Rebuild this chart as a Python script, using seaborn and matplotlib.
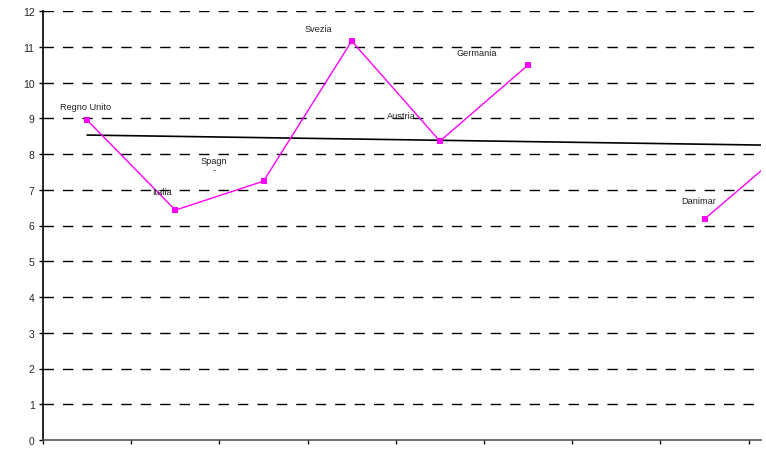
import numpy as np
import pandas as pd
import matplotlib
matplotlib.use("Agg")
import matplotlib.pyplot as plt
import seaborn as sns

# ---- data ----
countries = ["Regno Unito", "Italia", "Spagna", "Svezia", "Austria", "Germania",
             "(vuoto)", "Danimarca", "Successivo"]
values = [8.95, 6.43, 7.24, 11.16, 8.36, 10.49, np.nan, 6.18, 8.29]
segments = [0, 0, 0, 0, 0, 0, -1, 1, 1]
label_texts = ["Regno Unito", "Italia", "Spagn", "Svezia", "Austria", "Germania", "Danimar"]
label_x = [-0.02, 0.85, 1.44, 2.62, 3.56, 4.42, 6.93]
label_y = [9.34, 6.94, 7.83, 11.50, 9.09, 10.85, 6.69]
trend_cat = [0, 9]
trend_val = [8.53, 8.20]
y_ticks = list(range(0, 13))

sns.set_style("white")
plt.rcParams['font.family'] = ['Liberation Sans', 'DejaVu Sans']

fig = plt.figure(figsize=(7.66, 4.52), dpi=100)
ax = fig.add_axes([43 / 766, 11 / 452, 718 / 766, 429 / 452])

df = pd.DataFrame({"cat": np.arange(len(values)), "val": values, "seg": segments})
df = df[df["seg"] >= 0]

# gridlines
for yv in y_ticks[1:]:
    ax.axhline(yv, color="black", lw=1.0, ls=(0, (7.5, 6.5)), zorder=0.5)

sns.lineplot(data=df, x="cat", y="val", units="seg", estimator=None,
             color="#FF00FF", lw=1.0, marker="s", markersize=4,
             markeredgewidth=0, ax=ax, zorder=3)

tdf = pd.DataFrame({"cat": trend_cat, "val": trend_val})
sns.lineplot(data=tdf, x="cat", y="val", color="black", lw=1.2, ax=ax, zorder=2)

for t, x, y in zip(label_texts, label_x, label_y):
    ax.text(x, y, t, ha="center", va="center", fontsize=6.6, color="#222222", zorder=4)
ax.text(1.44, 7.55, "-", ha="center", va="center", fontsize=6.6, color="#222222")

ax.set_xlim(-0.5, 7.64)
ax.set_ylim(0, 12)
ax.set_yticks(y_ticks)
ax.set_yticklabels([str(v) for v in y_ticks], fontsize=7.5)
ax.set_xticks(np.arange(-0.5, 8, 1.0))
ax.set_xticklabels([])
ax.set_xlabel("")
ax.set_ylabel("")
ax.tick_params(axis="both", direction="out", length=3, width=1, color="black",
               left=True, bottom=True, pad=3)
for s in ["top", "right"]:
    ax.spines[s].set_visible(False)
ax.spines["left"].set_color("black")
ax.spines["bottom"].set_color("#555555")
ax.spines["left"].set_linewidth(1.2)
ax.spines["bottom"].set_linewidth(1.2)

fig.savefig("out.png", dpi=100, facecolor="white")
